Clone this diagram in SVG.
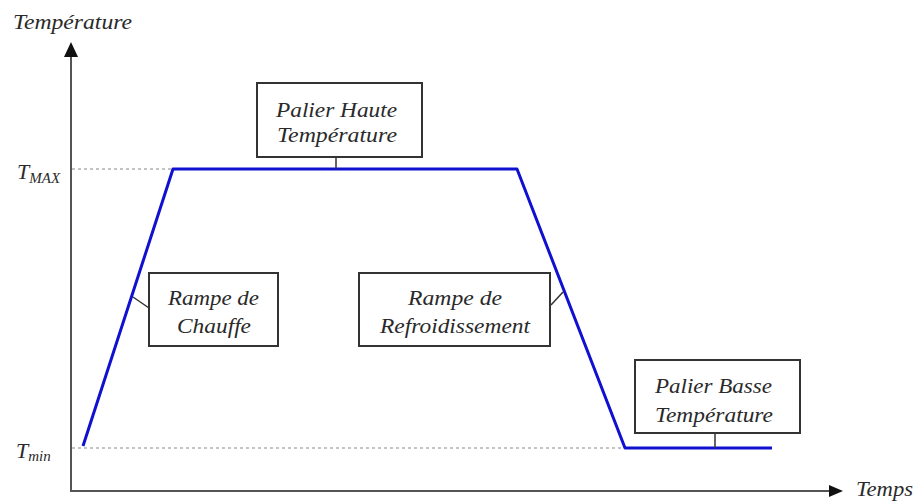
<svg xmlns="http://www.w3.org/2000/svg" width="917" height="504" viewBox="0 0 917 504">
<style>
text{font-family:"Liberation Serif","Times New Roman",serif;font-style:italic;fill:#2a2a2a;font-size:22px}
.box{fill:#fff;stroke:#333;stroke-width:2}
.lead{stroke:#333;stroke-width:1.5;fill:none}
.axis{stroke:#555;stroke-width:2;fill:none}
.dash{stroke:#888;stroke-width:1;stroke-dasharray:3,3;fill:none}
.curve{stroke:#1010d0;stroke-width:3;fill:none;stroke-linejoin:round}
.sub{font-size:15px}
</style>
<rect width="917" height="504" fill="#fff"/>
<g id="axes">
<line class="axis" x1="71" y1="55" x2="71" y2="491"/>
<line class="axis" x1="70" y1="491" x2="832" y2="491"/>
<polygon points="71,42 64,57 78,57" fill="#111"/>
<polygon points="843,491 829,485 829,497" fill="#111"/>
<text x="13" y="29" textLength="119" lengthAdjust="spacingAndGlyphs">Température</text>
<text x="856" y="496" textLength="57" lengthAdjust="spacingAndGlyphs">Temps</text>
</g>
<g id="levels">
<line class="dash" x1="72" y1="169" x2="173" y2="169"/>
<line class="dash" x1="72" y1="448" x2="625" y2="448"/>
<text x="17" y="179" font-size="26">T<tspan class="sub" dy="4">MAX</tspan></text>
<text x="16" y="458" font-size="26">T<tspan class="sub" dy="3">min</tspan></text>
</g>
<g id="curve">
<polyline class="curve" points="83,446 173,169 517,169 625,448 772,448"/>
</g>
<g id="connectors">
<line class="lead" x1="336" y1="157" x2="336" y2="169"/>
<line class="lead" x1="133" y1="297" x2="149" y2="308"/>
<line class="lead" x1="551" y1="305" x2="563" y2="292"/>
<line class="lead" x1="715" y1="433" x2="715" y2="448"/>
</g>
<g id="node-palier-haute">
<rect class="box" x="257" y="83" width="165" height="74"/>
<text x="276" y="117" textLength="121" lengthAdjust="spacingAndGlyphs">Palier Haute</text>
<text x="277" y="142" textLength="120" lengthAdjust="spacingAndGlyphs">Température</text>
</g>
<g id="node-rampe-chauffe">
<rect class="box" x="149" y="273" width="129" height="73"/>
<text x="168" y="305" textLength="91" lengthAdjust="spacingAndGlyphs">Rampe de</text>
<text x="177" y="333" textLength="74" lengthAdjust="spacingAndGlyphs">Chauffe</text>
</g>
<g id="node-rampe-refroidissement">
<rect class="box" x="359" y="273" width="191" height="73"/>
<text x="408" y="305" textLength="94" lengthAdjust="spacingAndGlyphs">Rampe de</text>
<text x="380" y="333" textLength="150" lengthAdjust="spacingAndGlyphs">Refroidissement</text>
</g>
<g id="node-palier-basse">
<rect class="box" x="635" y="360" width="165" height="73"/>
<text x="655" y="393" textLength="117" lengthAdjust="spacingAndGlyphs">Palier Basse</text>
<text x="655" y="422" textLength="118" lengthAdjust="spacingAndGlyphs">Température</text>
</g>
</svg>
